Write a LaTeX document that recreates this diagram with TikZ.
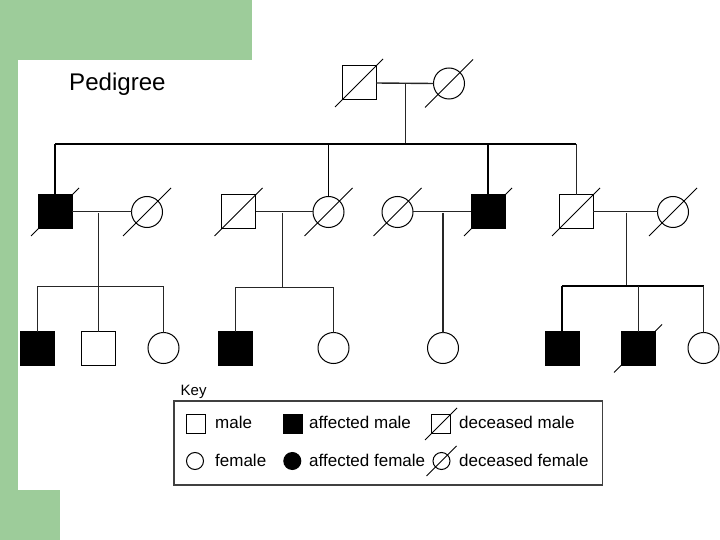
\documentclass[tikz,border=0pt]{standalone}
\usepackage{fontspec}
\setmainfont{Liberation Sans}
\usetikzlibrary{calc}
\definecolor{bggreen}{RGB}{157,204,154}
\tikzset{
  person/.style={draw=black, line width=1pt, inner sep=0pt, outer sep=0pt, fill=white},
  male/.style={person, rectangle, minimum size=34pt},
  female/.style={person, circle, minimum size=31pt},
  affected/.style={fill=black},
  kmale/.style={person, rectangle, minimum size=19pt},
  kfemale/.style={person, circle, minimum size=17pt},
  link/.style={line width=1pt, draw=black!85},
  sibline/.style={line width=1.3pt, draw=black},
  slashline/.style={line width=1pt, draw=black},
  keytext/.style={anchor=base west, inner sep=0pt, font=\fontsize{17}{19}\selectfont},
}
\newcommand\dcs[2][24]{\draw[slashline] ($(#2)+(-#1,#1)$) -- ($(#2)+(#1,-#1)$);}
\begin{document}
\begin{tikzpicture}[x=1pt,y=-1pt]
\useasboundingbox (0,0) rectangle (720,540);
% background
\fill[bggreen] (0,0) rectangle (252,60);
\fill[bggreen] (0,0) rectangle (18,540);
\fill[bggreen] (0,490) rectangle (60,540);

\node[anchor=base west, inner sep=0pt, font=\fontsize{24.1}{26}\selectfont] (title) at (69,91) {Pedigree};

% generation 1
\node[male] (gf) at (359,83) {};
\node[female] (gm) at (449,83.5) {};
% generation 2
\node[male, affected] (a1) at (55,212) {};
\node[female] (w1) at (147,212) {};
\node[male] (h2) at (238.5,212) {};
\node[female] (d2) at (328.5,212) {};
\node[female] (w3) at (397.5,212) {};
\node[male, affected] (s3) at (488,212) {};
\node[male] (s4) at (576,212) {};
\node[female] (w4) at (673,212) {};
% generation 3
\node[male, affected] (c11) at (37,348.5) {};
\node[male] (c12) at (98,348.5) {};
\node[female] (c13) at (163.5,348) {};
\node[male, affected] (c21) at (235.5,348.5) {};
\node[female] (c22) at (333.5,348) {};
\node[female] (c31) at (443,348) {};
\node[male, affected] (c41) at (562,348.5) {};
\node[male, affected] (c42) at (638,348.5) {};
\node[female] (c43) at (703.5,348) {};

% marriage / descent coordinates
\coordinate (m0) at (405,83);
\coordinate (sib0) at (405,144);
\coordinate (m1) at (98,213);
\coordinate (sib1) at (98,286.5);
\coordinate (m2) at (282,213);
\coordinate (sib2) at (282,287);
\coordinate (m3) at (443,213);
\coordinate (m4) at (626,213);
\coordinate (sib4) at (626,286);

% gen 1
\draw[link, line width=1.4pt] (gf.east) -- (gm.west);
\draw[link] (m0) -- (sib0);
\draw[sibline] (a1 |- sib0) -- (s4 |- sib0);
\draw[sibline] (a1 |- sib0) -- (a1.north);
\draw[sibline] (d2 |- sib0) -- (d2.north);
\draw[sibline] (s3 |- sib0) -- (s3.north);
\draw[link] (s4 |- sib0) -- (s4.north);

% family 1
\draw[link] (a1.east) -- (w1.west);
\draw[link] (m1) -- (sib1);
\draw[link] (c11 |- sib1) -- (c13 |- sib1);
\draw[link] (c11 |- sib1) -- (c11.north);
\draw[link] (c12 |- sib1) -- (c12.north);
\draw[link] (c13 |- sib1) -- (c13.north);
% family 2
\draw[link] (h2.east) -- (d2.west);
\draw[link] (m2) -- (sib2);
\draw[link] (c21 |- sib2) -- (c22 |- sib2);
\draw[link] (c21 |- sib2) -- (c21.north);
\draw[link] (c22 |- sib2) -- (c22.north);
% family 3
\draw[link] (w3.east) -- (s3.west);
\draw[link, line width=1.4pt] (m3) -- (c31.north);
% family 4
\draw[link] (s4.east) -- (w4.west);
\draw[link] (m4) -- (sib4);
\draw[sibline] (c41 |- sib4) -- (c43 |- sib4);
\draw[sibline] (c41 |- sib4) -- (c41.north);
\draw[link] (c42 |- sib4) -- (c42.north);
\draw[link] (c43 |- sib4) -- (c43.north);

% deceased marks
\dcs{gf} \dcs{gm}
\dcs{a1} \dcs{w1} \dcs{h2} \dcs{d2}
\dcs{w3} \dcs{s3} \dcs{s4} \dcs{w4}
\dcs{c42}

% key
\node[anchor=base west, inner sep=0pt, font=\fontsize{15}{17}\selectfont] (keytitle) at (180.5,395) {Key};
\node[draw=black!75, line width=1.5pt, minimum width=428.5pt, minimum height=84pt, inner sep=0pt, anchor=north west] (keybox) at (173,400) {};
\node[kmale] (k1) at (195.5,424) {};
\node[keytext] (k1t) at (215,428.5) {male};
\node[kmale, affected] (k2) at (292.5,424) {};
\node[keytext] (k2t) at (309,428.5) {affected male};
\node[kmale] (k3) at (441,424) {};
\node[keytext] (k3t) at (459,428.5) {deceased male};
\dcs[16]{k3}
\node[kfemale] (k4) at (195,461) {};
\node[keytext] (k4t) at (215,466.7) {female};
\node[kfemale, affected] (k5) at (292.3,461) {};
\node[keytext] (k5t) at (309,466.7) {affected female};
\node[kfemale] (k6) at (441.5,461) {};
\node[keytext] (k6t) at (459,466.7) {deceased female};
\dcs[15]{k6}
\end{tikzpicture}
\end{document}
